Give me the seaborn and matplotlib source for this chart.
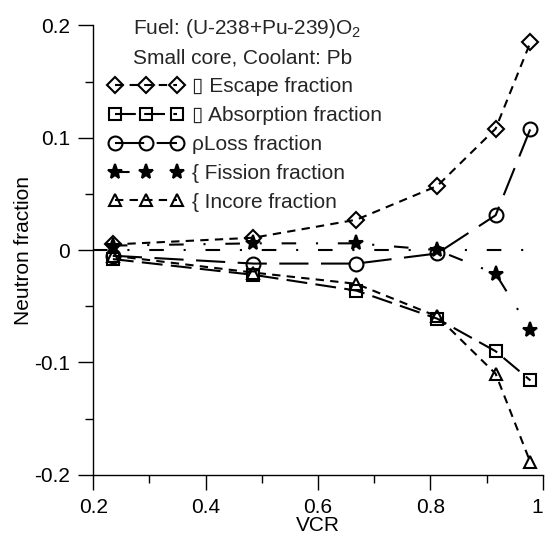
import matplotlib
matplotlib.use("Agg")
import matplotlib.pyplot as plt
import seaborn as sns
import pandas as pd
from matplotlib.ticker import MultipleLocator, FixedLocator, FixedFormatter

vcr = [0.235, 0.485, 0.668, 0.812, 0.916, 0.978]
escape = [0.005, 0.011, 0.027, 0.057, 0.108, 0.185]
absorption = [-0.008, -0.022, -0.036, -0.061, -0.090, -0.116]
loss = [-0.005, -0.012, -0.012, -0.003, 0.031, 0.108]
fission = [0.004, 0.006, 0.006, 0.000, -0.021, -0.071]
incore = [-0.005, -0.020, -0.030, -0.059, -0.110, -0.189]

labels = ["\u25af Escape fraction", "\u25af Absorption fraction", "\u03c1Loss fraction",
          "{ Fission fraction", "{ Incore fraction"]
header1 = "Fuel: (U-238+Pu-239)O$_2$"
header2 = "Small core, Coolant: Pb"
xticks = [0.2, 0.4, 0.6, 0.8, 1.0]
xticklabels = ["0.2", "0.4", "0.6", "0.8", "1"]
yticks = [-0.2, -0.1, 0.0, 0.1, 0.2]
yticklabels = ["-0.2", "-0.1", "0", "0.1", "0.2"]

FS = 15

sns.set_theme(style="ticks")
plt.rcParams['font.family'] = ['Liberation Sans', 'DejaVu Sans']
plt.rcParams['mathtext.fontset'] = 'custom'
plt.rcParams['mathtext.rm'] = 'Liberation Sans'

fig = plt.figure(figsize=(5.45, 5.39), dpi=100)
ax = fig.add_axes([0.171, 0.119, 0.825, 0.834])

styles = [
    dict(marker="D", markersize=8.5, linestyle=(0, (4, 3))),
    dict(marker="s", markersize=9, linestyle=(0, (10, 4))),
    dict(marker="o", markersize=10, linestyle=(0, (14, 6))),
    dict(marker="*", markersize=11, linestyle=(0, (7, 9.5, 1, 9.5)), markerfacecolor="black"),
    dict(marker="^", markersize=9, linestyle=(0, (4, 3))),
]
series = [escape, absorption, loss, fission, incore]

ax.axhline(0, color="black", lw=1.5, linestyle=(0, (7, 9.5, 1, 9.5)), zorder=1)

for vals, lab, st in zip(series, labels, styles):
    df = pd.DataFrame({"VCR": vcr, "frac": vals})
    kw = dict(color="black", lw=1.5, markeredgecolor="black", markeredgewidth=1.5)
    if "markerfacecolor" not in st:
        kw["markerfacecolor"] = "none"
    kw.update(st)
    sns.lineplot(data=df, x="VCR", y="frac", ax=ax, label=lab, sort=False, **kw)

ax.set_xlim(0.2, 1.0)
ax.set_ylim(-0.2, 0.2)
ax.xaxis.set_major_locator(FixedLocator(xticks))
ax.xaxis.set_major_formatter(FixedFormatter(xticklabels))
ax.yaxis.set_major_locator(FixedLocator(yticks))
ax.yaxis.set_major_formatter(FixedFormatter(yticklabels))
ax.xaxis.set_minor_locator(MultipleLocator(0.1))
ax.yaxis.set_minor_locator(MultipleLocator(0.05))
ax.tick_params(which="major", direction="out", length=11, width=1, labelsize=FS,
               color="black", labelcolor="black")
ax.tick_params(axis="x", which="major", pad=6)
ax.tick_params(axis="y", which="major", pad=5.5)
ax.tick_params(which="minor", direction="out", length=5.8, width=1, color="black")
for s in ["top", "right"]:
    ax.spines[s].set_visible(False)
for s in ["left", "bottom"]:
    ax.spines[s].set_color("black")
    ax.spines[s].set_linewidth(1)

fig.canvas.draw()
xl = ax.get_xticklabels()
xl[-1].set_horizontalalignment("right")
xl[-1].set_x(1.0)

ax.set_xlabel("VCR", fontsize=FS, labelpad=-1, color="black")
ax.set_ylabel("Neutron fraction", fontsize=FS, labelpad=1, color="black")

leg = ax.legend(loc="upper left", bbox_to_anchor=(0.035, 0.884), frameon=False, fontsize=FS,
                numpoints=3, handlelength=3.55, handletextpad=0.45, labelspacing=0.47,
                borderpad=0, borderaxespad=0)

ax.text(0.088, 0.993, header1, transform=ax.transAxes, fontsize=FS, va="center", ha="left")
ax.text(0.088, 0.928, header2, transform=ax.transAxes, fontsize=FS, va="center", ha="left")

fig.savefig("out.png", dpi=100)
